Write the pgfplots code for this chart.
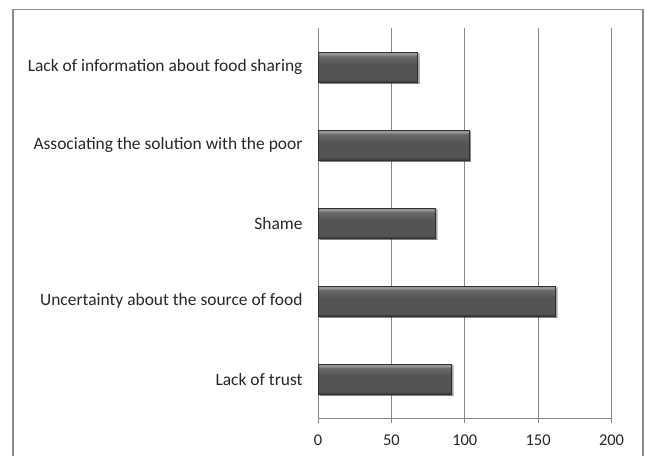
\documentclass[border=0pt]{standalone}
\usepackage{pgfplots}
\pgfplotsset{compat=1.18}
\usepackage{fontspec}
\setmainfont{Carlito}
\usetikzlibrary{shadows}

\definecolor{gridgray}{RGB}{134,134,134}
\definecolor{framegray}{RGB}{140,140,140}
\definecolor{barTop}{RGB}{150,150,150}
\definecolor{barHi}{RGB}{105,105,105}
\definecolor{barMid}{RGB}{84,84,84}
\definecolor{barBot}{RGB}{58,58,58}
\definecolor{barEdge}{RGB}{48,48,48}

\pgfdeclareverticalshading{bevel}{100bp}{%
  color(0bp)=(barBot); color(25bp)=(barBot); color(30bp)=(barMid);
  color(55bp)=(barMid); color(68bp)=(barHi); color(72bp)=(barTop);
  color(75bp)=(barTop); color(100bp)=(barTop)}

\pgfplotsset{
  barstyle/.style={draw=barEdge, line width=0.6bp, shading=bevel, bar shift=0pt, forget plot,
    drop shadow={shadow xshift=1.5bp, shadow yshift=-1.5bp, opacity=0.25, fill=black}},
}

\begin{document}
\begin{tikzpicture}
\useasboundingbox (0bp,0bp) rectangle (645bp,456bp);
\draw[color=framegray, line width=1.3bp] (13bp,-5bp) -- (13bp,446.5bp) -- (643bp,446.5bp) -- (643bp,-5bp);
\begin{axis}[
  at={(318bp,38bp)}, anchor=south west,
  scale only axis, width=293.5bp, height=389.7bp,
  xbar, bar width=30bp,
  xmin=0, xmax=200, ymin=0.5, ymax=5.5,
  axis x line*=bottom, axis y line*=left,
  axis line style={gridgray, line width=0.8bp, -},
  xtick={0,50,...,200},
  ytick={1,...,5},
  yticklabels={Lack of trust, Uncertainty about the source of food, Shame, Associating the solution with the poor, Lack of information about food sharing},
  minor ytick={0.5,1.5,...,5.5},
  major tick length=5bp,
  ytick style={draw=none},
  minor tick style={gridgray, line width=0.8bp},
  minor tick length=5bp,
  xtick style={gridgray, line width=0.8bp},
  tick align=outside,
  xmajorgrids,
  major grid style={gridgray, line width=0.8bp},
  tick label style={color=black!85},
  yticklabel style={font=\fontsize{17.5}{19}\selectfont, xshift=-7bp},
  xticklabel style={font=\fontsize{16.5}{18}\selectfont, yshift=-8bp},
  /pgf/number format/assume math mode=true,
]
\addplot[barstyle] coordinates {(91,1)};
\addplot[barstyle] coordinates {(162,2)};
\addplot[barstyle] coordinates {(80,3)};
\addplot[barstyle] coordinates {(103,4)};
\addplot[barstyle] coordinates {(68,5)};
\end{axis}
\end{tikzpicture}
\end{document}
